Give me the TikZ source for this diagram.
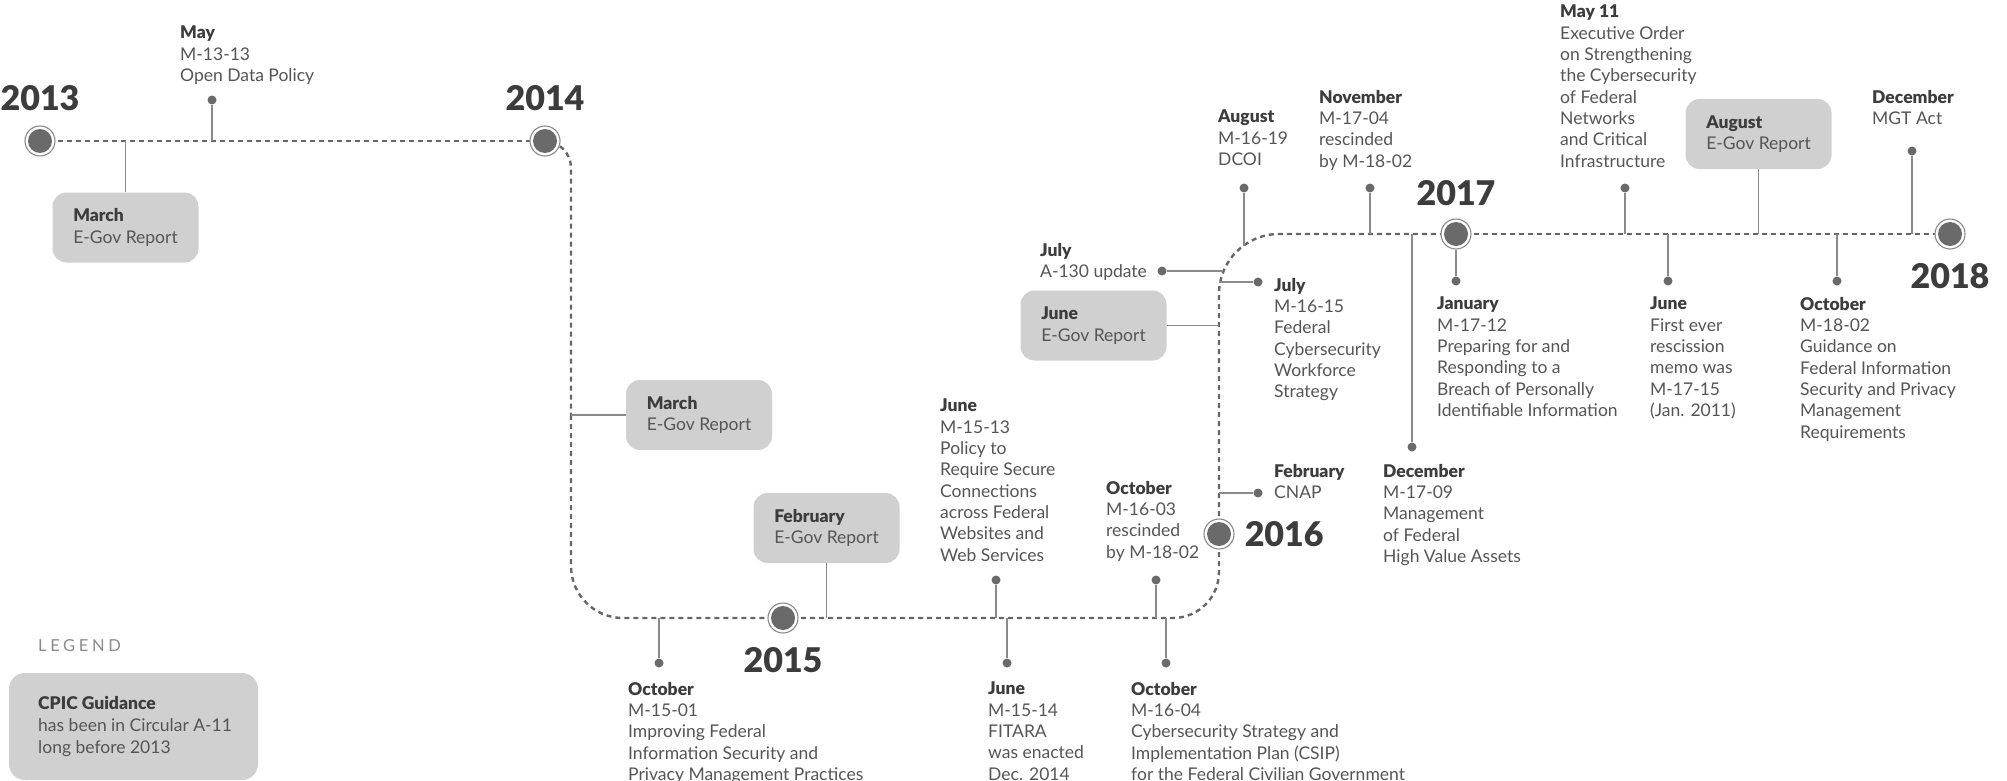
\documentclass[tikz,border=0pt]{standalone}
\usepackage{fontspec}
\setmainfont{Lato}[BoldFont={Lato Black}]
\newfontfamily\yearfont{Lato Black}
\usetikzlibrary{positioning,calc,backgrounds}
\definecolor{linegray}{HTML}{666666}
\definecolor{stemgray}{HTML}{8A8A8A}
\definecolor{dotgray}{HTML}{6A6A6A}
\definecolor{boxgray}{HTML}{D0D0D0}
\definecolor{textgray}{HTML}{555555}
\definecolor{headgray}{HTML}{3C3C3C}
\newcommand{\hd}[1]{{\bfseries\color{headgray}#1}}
\tikzset{
  timeline/.style={draw=linegray, line width=2.4pt, dash pattern=on 5pt off 4pt},
  stem/.style={draw=stemgray, line width=1.3pt},
  dot/.style={circle, fill=dotgray, inner sep=0, minimum size=9pt},
  yearmark/.style={circle, draw=stemgray, line width=1.1pt, fill=white, minimum size=30pt, inner sep=0,
    path picture={\fill[dotgray] (path picture bounding box.center) circle (12pt);}},
  yeartext/.style={inner sep=0, font=\yearfont\fontsize{34}{34}\selectfont, text=headgray},
  event/.style={anchor=north west, inner sep=0, align=left, font=\fontsize{17.5}{21.3}\selectfont, text=textgray},
  egov/.style={rounded corners=14pt, fill=boxgray, minimum width=146pt, minimum height=70pt, inner sep=0,
    align=left, font=\fontsize{17.5}{21.3}\selectfont, text=textgray},
}
\begin{document}
\begin{tikzpicture}[x=1pt,y=-1pt,node distance=14pt]
\useasboundingbox (0,0) rectangle (2007,781);

\node[yearmark] (y2013) at (40,141) {};
\node[yearmark] (y2014) at (545,141) {};
\node[yearmark] (y2015) at (783,618) {};
\node[yearmark] (y2016) at (1219,534) {};
\node[yearmark] (y2017) at (1456,234) {};
\node[yearmark] (y2018) at (1950,234) {};
\node[yeartext, above=of y2013] {2013};
\node[yeartext, above=of y2014] {2014};
\node[yeartext, below=of y2015] {2015};
\node[yeartext, right=10pt of y2016] {2016};
\node[yeartext, above=12.5pt of y2017] {2017};
\node[yeartext, below=of y2018] {2018};
\coordinate (t14) at (571,415);

\begin{scope}[on background layer]
\draw[timeline] (y2013.center) -- (y2014.center);
\draw[timeline, rounded corners=27pt] (y2014.center) -| (t14);
\draw[timeline, rounded corners=52pt] (t14) |- (y2015.center);
\draw[timeline, rounded corners=46pt] (y2015.center) -| (y2016.center);
\draw[timeline, rounded corners=60pt] (y2016.center) |- (y2017.center);
\draw[timeline] (y2017.center) -- (y2018.center);
\end{scope}

% 2013
\node[dot] (dMay13) at (212,100) {};
\node[event] at (180,26) {\hd{May}\\M-13-13\\Open Data Policy};
\node[egov] (egov13) at (125.5,227.5) {\hd{March}\\E-Gov Report};
\draw[stem] (dMay13) -- (dMay13 |- y2013);
\draw[stem] (egov13) -- (egov13 |- y2013);

% 2014
\node[egov] (egov14) at (699,415) {\hd{March}\\E-Gov Report};
\draw[stem] (t14) -- (egov14);

% 2015
\node[egov] (egov15) at (826.5,528) {\hd{February}\\E-Gov Report};
\node[dot] (dOct15a) at (659,663) {};
\node[event] at (628,682) {\hd{October}\\M-15-01\\Improving Federal\\Information Security and\\Privacy Management Practices};
\node[dot] (dJun15a) at (996,580) {};
\node[event] at (940,399) {\hd{June}\\M-15-13\\Policy to\\Require Secure\\Connections\\across Federal\\Websites and\\Web Services};
\node[dot] (dJun15b) at (1007,663) {};
\node[event] at (988,682) {\hd{June}\\M-15-14\\FITARA\\was enacted\\Dec. 2014};
\node[dot] (dOct15b) at (1156,580) {};
\node[event] at (1106,481) {\hd{October}\\M-16-03\\rescinded\\by M-18-02};
\node[dot] (dOct15c) at (1166,663) {};
\node[event] at (1131,682) {\hd{October}\\M-16-04\\Cybersecurity Strategy and\\Implementation Plan (CSIP)\\for the Federal Civilian Government};
\draw[stem] (egov15) -- (egov15 |- y2015);
\draw[stem] (dOct15a) -- (dOct15a |- y2015);
\draw[stem] (dJun15a) -- (dJun15a |- y2015);
\draw[stem] (dJun15b) -- (dJun15b |- y2015);
\draw[stem] (dOct15b) -- (dOct15b |- y2015);
\draw[stem] (dOct15c) -- (dOct15c |- y2015);

% 2016
\node[dot] (dFeb16) at (1258,493) {};
\node[event] at (1274,464) {\hd{February}\\CNAP};
\node[egov] (egov16) at (1093.5,325.5) {\hd{June}\\E-Gov Report};
\node[dot] (dJul16a) at (1162,271) {};
\node[event] at (1040,243) {\hd{July}\\A-130 update};
\node[dot] (dJul16b) at (1258,282) {};
\node[event] at (1274,278) {\hd{July}\\M-16-15\\Federal\\Cybersecurity\\Workforce\\Strategy};
\node[dot] (dAug16) at (1244,188) {};
\node[event] at (1218,110) {\hd{August}\\M-16-19\\DCOI};
\node[dot] (dNov16) at (1370,188) {};
\node[event] at (1319,90) {\hd{November}\\M-17-04\\rescinded\\by M-18-02};
\node[dot] (dDec16) at (1412,447) {};
\node[event] at (1383,464) {\hd{December}\\M-17-09\\Management\\of Federal\\High Value Assets};
\draw[stem] (dFeb16) -- (dFeb16 -| y2016);
\draw[stem] (dJul16b) -- (dJul16b -| y2016);
\draw[stem] (egov16) -- (egov16 -| y2016);
\draw[stem] (dJul16a) -- ($(dJul16a -| y2016)+(4,0)$);
\draw[stem] (dAug16) -- ($(dAug16 |- y2017)+(0,12)$);
\draw[stem] (dNov16) -- (dNov16 |- y2017);
\draw[stem] (dDec16) -- (dDec16 |- y2017);

% 2017
\node[dot] (dJan17) at (1456,281) {};
\node[event] at (1437,297) {\hd{January}\\M-17-12\\Preparing for and\\Responding to a\\Breach of Personally\\Identifiable Information};
\node[dot] (dMay17) at (1625,188) {};
\node[event] at (1560,5) {\hd{May 11}\\Executive Order\\on Strengthening\\the Cybersecurity\\of Federal\\Networks\\and Critical\\Infrastructure};
\node[egov] (egov17) at (1758.5,134) {\hd{August}\\E-Gov Report};
\node[dot] (dJun17) at (1668,281) {};
\node[event] at (1650,297) {\hd{June}\\First ever\\rescission\\memo was\\M-17-15\\(Jan. 2011)};
\node[dot] (dOct17) at (1837,281) {};
\node[event] at (1800,297) {\hd{October}\\M-18-02\\Guidance on\\Federal Information\\Security and Privacy\\Management\\Requirements};
\node[dot] (dDec17) at (1912,151) {};
\node[event] at (1872,90) {\hd{December}\\MGT Act};
\draw[stem] (dJan17) -- (y2017);
\draw[stem] (dMay17) -- (dMay17 |- y2017);
\draw[stem] (egov17) -- (egov17 |- y2017);
\draw[stem] (dJun17) -- (dJun17 |- y2017);
\draw[stem] (dOct17) -- (dOct17 |- y2017);
\draw[stem] (dDec17) -- (dDec17 |- y2017);

% legend
\node[event, text=stemgray, font=\fontsize{16.5}{18}\selectfont\addfontfeatures{LetterSpace=22}] at (38,639) {LEGEND};
\node[fill=boxgray, rounded corners=16pt, minimum width=249pt, minimum height=107pt, inner sep=0] (legend) at (133.5,726.5) {};
\node[event, font=\fontsize{17.5}{22}\selectfont] at (38,696) {\hd{CPIC Guidance}\\has been in Circular A-11\\long before 2013};
\end{tikzpicture}
\end{document}
